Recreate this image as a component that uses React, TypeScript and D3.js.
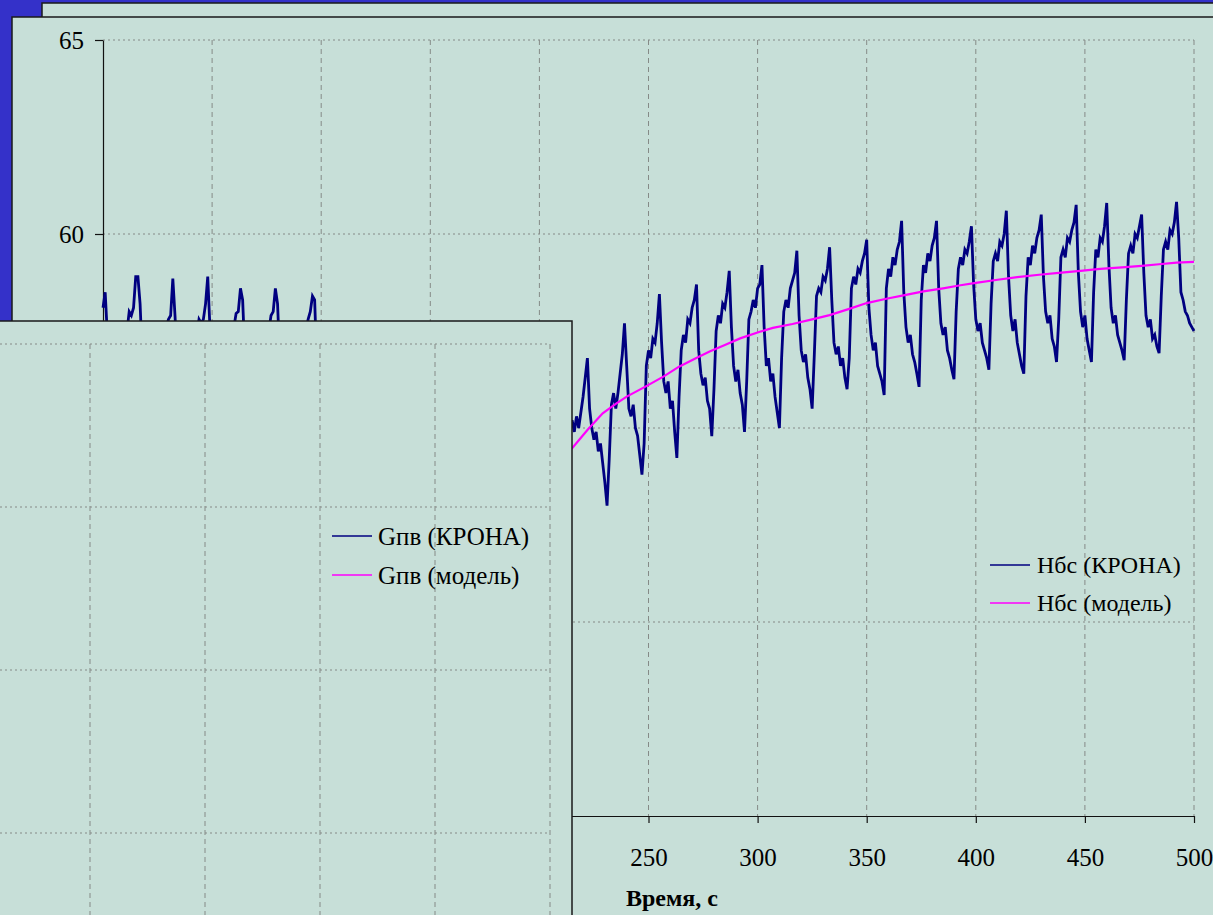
import React, { useRef, useEffect } from 'react';
import * as d3 from 'd3';

// Нбс (КРОНА), one reading per second, t = 0 ... 500 s
const nbsKrona: number[] = [
  58.1, 58.5, 57.4, 56.6, 56.3, 56.0, 55.7, 55.5, 55.2, 56.4,
  57.2, 57.5, 58.0, 57.9, 58.1, 58.9, 58.9, 58.2, 56.8, 56.3,
  56.1, 55.8, 55.6, 55.3, 55.1, 56.5, 57.1, 57.4, 57.5, 57.6,
  57.8, 57.9, 58.85, 57.9, 56.7, 56.2, 56.0, 55.7, 55.4, 55.2,
  55.0, 56.4, 57.1, 57.4, 57.8, 57.7, 57.8, 58.2, 58.9, 57.6,
  56.5, 56.1, 55.9, 55.6, 55.3, 55.1, 55.0, 56.3, 57.0, 57.3,
  57.6, 57.95, 58.0, 58.6, 58.3, 56.9, 56.2, 55.9, 55.7, 55.4,
  55.2, 55.0, 54.9, 56.2, 57.0, 57.3, 57.5, 57.9, 58.0, 58.6,
  58.2, 56.8, 56.1, 55.8, 55.5, 55.3, 55.0, 54.8, 54.6, 55.9,
  56.8, 57.1, 57.4, 57.5, 57.8, 58.0, 58.4, 58.3, 56.6, 55.9,
  55.5, 55.2, 54.8, 54.4, 54.0, 55.3, 56.0, 56.3, 56.5, 56.4,
  56.7, 56.9, 57.3, 55.9, 55.0, 54.6, 54.4, 54.0, 53.8, 53.5,
  53.3, 54.6, 55.3, 55.5, 55.8, 55.7, 56.0, 56.2, 56.6, 55.2,
  54.3, 54.0, 53.7, 53.4, 53.2, 53.0, 52.8, 54.0, 54.8, 55.0,
  55.2, 55.1, 55.4, 55.6, 56.0, 54.6, 53.8, 53.5, 53.2, 53.0,
  52.8, 52.6, 52.5, 53.7, 54.4, 54.7, 54.9, 54.8, 55.1, 55.3,
  55.6, 54.3, 53.5, 53.2, 53.0, 52.8, 52.6, 52.5, 52.4, 53.6,
  54.3, 54.6, 54.7, 54.6, 54.9, 55.1, 55.4, 54.1, 53.4, 53.1,
  52.9, 52.8, 52.7, 52.6, 52.6, 53.8, 54.5, 54.8, 54.9, 54.8,
  55.1, 55.3, 55.6, 54.4, 53.7, 53.5, 53.3, 53.2, 53.2, 53.2,
  54.3, 55.0, 55.3, 55.4, 55.3, 55.6, 56.0, 54.9, 54.2, 54.0,
  53.8, 54.2, 54.6, 54.8, 55.0, 55.2, 54.9, 55.3, 55.0, 55.4,
  55.8, 56.3, 56.8, 55.5, 55.0, 54.7, 54.9, 54.4, 54.6, 54.1,
  53.6, 53.0, 54.2, 55.6, 55.9, 55.5, 55.9, 56.4, 56.9, 57.7,
  56.6, 55.5, 55.3, 55.6, 55.0, 54.8, 54.3, 53.8, 54.6, 56.6,
  57.0, 56.8, 57.3, 57.2, 57.7, 58.45, 57.2, 56.2, 55.9, 56.2,
  55.5, 55.7, 54.9, 54.23, 55.8, 57.0, 57.4, 57.2, 57.8, 57.7,
  58.1, 58.3, 58.7, 57.0, 56.4, 56.1, 56.3, 55.7, 55.5, 54.79,
  56.0, 57.5, 57.9, 57.7, 58.2, 58.1, 58.5, 59.05, 57.6, 56.6,
  56.2, 56.5, 55.9, 55.6, 54.9, 56.2, 57.8, 58.0, 58.3, 58.1,
  58.6, 58.7, 59.2, 57.6, 56.6, 56.8, 56.2, 56.4, 55.8, 55.4,
  55.0, 56.8, 58.0, 58.3, 58.1, 58.6, 58.8, 59.0, 59.57, 57.9,
  57.0, 56.7, 56.9, 56.3, 56.0, 55.5, 56.9, 58.4, 58.6, 58.5,
  58.9, 58.8, 59.1, 59.66, 58.3, 57.2, 56.9, 57.1, 56.6, 56.8,
  56.3, 56.0, 56.8, 58.6, 58.9, 58.7, 59.1, 59.0, 59.3, 59.5,
  59.85, 58.1, 57.4, 57.0, 57.2, 56.6, 56.4, 56.2, 55.85, 58.6,
  59.1, 58.9, 59.4, 59.2, 59.6, 59.8, 60.34, 58.5, 57.6, 57.2,
  57.4, 56.9, 56.7, 56.4, 56.06, 58.3, 59.2, 59.0, 59.5, 59.3,
  59.7, 59.9, 60.34, 58.6, 57.7, 57.4, 57.6, 57.0, 56.8, 56.5,
  56.26, 58.0, 59.1, 59.4, 59.2, 59.6, 59.5, 59.8, 60.2, 58.7,
  57.8, 57.5, 57.7, 57.2, 57.0, 56.8, 56.5, 58.2, 59.3, 59.5,
  59.3, 59.8, 59.7, 60.0, 60.6, 58.9, 57.9, 57.5, 57.8, 57.2,
  56.9, 56.6, 56.4, 58.4, 59.4, 59.2, 59.7, 59.5, 59.9, 60.1,
  60.5, 58.9, 58.0, 57.7, 57.9, 57.3, 57.1, 56.7, 57.8, 59.4,
  59.6, 59.4, 59.9, 59.8, 60.1, 60.3, 60.75, 59.0, 58.0, 57.6,
  57.9, 57.3, 57.0, 56.7, 58.5, 59.6, 59.4, 59.9, 59.8, 60.2,
  60.8, 59.2, 58.1, 57.7, 57.9, 57.4, 57.2, 57.0, 56.75, 58.3,
  59.5, 59.7, 59.5, 60.0, 59.9, 60.2, 60.5, 59.0, 57.9, 57.6,
  57.8, 57.3, 57.4, 57.1, 56.93, 58.4, 59.6, 59.8, 59.6, 60.1,
  60.0, 60.3, 60.83, 59.9, 58.5, 58.3, 58.0, 57.9, 57.7, 57.6,
  57.5,
];

// Нбс (модель)
const nbsModelTime = [205, 215, 222, 229, 235, 240, 249, 257, 264, 271, 278, 285, 292, 301, 307, 316, 325, 333, 342, 350,
  359, 368, 376, 385, 393, 400, 410, 419, 429, 438, 448, 457, 467, 476, 484, 492, 500];
const nbsModel = [53.95, 54.48, 54.95, 55.38, 55.62, 55.81, 56.08, 56.33, 56.58, 56.78, 56.97, 57.14, 57.31, 57.48, 57.58,
  57.68, 57.8, 57.91, 58.07, 58.22, 58.33, 58.43, 58.52, 58.6, 58.68, 58.74, 58.82, 58.89, 58.95, 59.0, 59.05, 59.1,
  59.14, 59.18, 59.22, 59.26, 59.28];

const timeTicks = [0, 50, 100, 150, 200, 250, 300, 350, 400, 450, 500];
const levelTicks = [45, 50, 55, 60, 65];
const mainLegend = ['Нбс (КРОНА)', 'Нбс (модель)'];
const gpvLegend = ['Gпв (КРОНА)', 'Gпв (модель)'];
const gpvRows = [0, 1, 2, 3, 4];

const NAVY = '#000080';
const MAGENTA = '#FF00FF';
const PANEL = '#C7DFD8';
const SERIF = 'Liberation Serif';

const Slide: React.FC = () => {
  const svgRef = useRef<SVGSVGElement | null>(null);

  useEffect(() => {
    if (!svgRef.current) return;
    const svg = d3.select(svgRef.current);
    svg.selectAll('*').remove();

    const width = 1213;
    const height = 915;

    svg.append('rect').attr('width', width).attr('height', height).attr('fill', '#3431C9');

    // panel behind
    svg.append('rect').attr('x', 42).attr('y', 3).attr('width', 1300).attr('height', 1000)
      .attr('fill', PANEL).attr('stroke', '#1a1a1a').attr('stroke-width', 1.5);
    // main panel
    svg.append('rect').attr('x', 12).attr('y', 17).attr('width', 1300).attr('height', 1000)
      .attr('fill', PANEL).attr('stroke', '#1a1a1a').attr('stroke-width', 1.5);

    // ---- main chart: Нбс ----
    const x = d3.scaleLinear().domain([0, 500]).range([103, 1194]);
    const y = d3.scaleLinear().domain([45, 65]).range([816, 40]);

    const main = svg.append('g');

    main.append('g').selectAll('line')
      .data(levelTicks.filter(d => d > 45))
      .join('line')
      .attr('x1', x(0)).attr('x2', x(500))
      .attr('y1', d => y(d)).attr('y2', d => y(d))
      .attr('stroke', '#858a87').attr('stroke-dasharray', '2,3');

    main.append('g').selectAll('line')
      .data(timeTicks.filter(d => d > 0))
      .join('line')
      .attr('x1', d => x(d)).attr('x2', d => x(d))
      .attr('y1', y(65)).attr('y2', y(45))
      .attr('stroke', '#858a87').attr('stroke-dasharray', '5,4');

    const xAxis = main.append('g')
      .attr('transform', `translate(0,${y(45)})`)
      .call(d3.axisBottom(x).tickValues(timeTicks).tickSize(7).tickSizeOuter(0).tickPadding(25));
    const yAxis = main.append('g')
      .attr('transform', `translate(${x(0)},0)`)
      .call(d3.axisLeft(y).tickValues(levelTicks).tickSize(8).tickSizeOuter(0).tickPadding(11));
    [xAxis, yAxis].forEach(a => {
      a.selectAll('path, line').attr('stroke', '#111').attr('stroke-width', 1.2);
      a.selectAll('text').attr('font-family', SERIF).attr('font-size', 25).attr('fill', '#000');
    });

    main.append('text')
      .attr('x', 626).attr('y', 906)
      .attr('font-family', SERIF).attr('font-size', 24).attr('font-weight', 'bold')
      .text('Время, с');

    const kronaLine = d3.line<number>().x((d, i) => x(i)).y(d => y(d));
    main.append('path')
      .datum(nbsKrona)
      .attr('fill', 'none').attr('stroke', NAVY).attr('stroke-width', 2.8)
      .attr('d', kronaLine);

    const modelLine = d3.line<number>().x((d, i) => x(nbsModelTime[i])).y(d => y(d));
    main.append('path')
      .datum(nbsModel)
      .attr('fill', 'none').attr('stroke', MAGENTA).attr('stroke-width', 2.2)
      .attr('d', modelLine);

    const legColors = [NAVY, MAGENTA];
    const leg = main.append('g');
    mainLegend.forEach((name, i) => {
      const ly = 565 + i * 38;
      leg.append('line').attr('x1', 990).attr('x2', 1030).attr('y1', ly).attr('y2', ly)
        .attr('stroke', legColors[i]).attr('stroke-width', 1.5);
      leg.append('text').attr('x', 1037).attr('y', ly).attr('dy', '0.35em')
        .attr('font-family', SERIF).attr('font-size', 24).text(name);
    });

    // ---- front panel: Gпв ----
    const front = svg.append('g');
    front.append('rect').attr('x', -20).attr('y', 321).attr('width', 592).attr('height', 700)
      .attr('fill', PANEL).attr('stroke', '#1a1a1a').attr('stroke-width', 1.5);

    const gx = d3.scaleLinear().domain([0, 500]).range([-600, 550]);
    const gy = d3.scaleLinear().domain([0, 4]).range([996, 344]);

    front.append('g').selectAll('line')
      .data(gpvRows.filter(d => d > 0))
      .join('line')
      .attr('x1', gx(0)).attr('x2', gx(500))
      .attr('y1', d => gy(d)).attr('y2', d => gy(d))
      .attr('stroke', '#858a87').attr('stroke-dasharray', '2,3');

    front.append('g').selectAll('line')
      .data(timeTicks.filter(d => d > 0))
      .join('line')
      .attr('x1', d => gx(d)).attr('x2', d => gx(d))
      .attr('y1', gy(4)).attr('y2', gy(0))
      .attr('stroke', '#858a87').attr('stroke-dasharray', '5,4');

    gpvLegend.forEach((name, i) => {
      const ly = 536 + i * 39;
      front.append('line').attr('x1', 332).attr('x2', 372).attr('y1', ly).attr('y2', ly)
        .attr('stroke', legColors[i]).attr('stroke-width', 1.5);
      front.append('text').attr('x', 378).attr('y', ly).attr('dy', '0.35em')
        .attr('font-family', SERIF).attr('font-size', 25).text(name);
    });
  }, []);

  return (
    <svg ref={svgRef} width={1213} height={915}
      style={{ position: 'absolute', left: 0, top: 0, display: 'block' }} />
  );
};

export default function App() {
  return <Slide />;
}
